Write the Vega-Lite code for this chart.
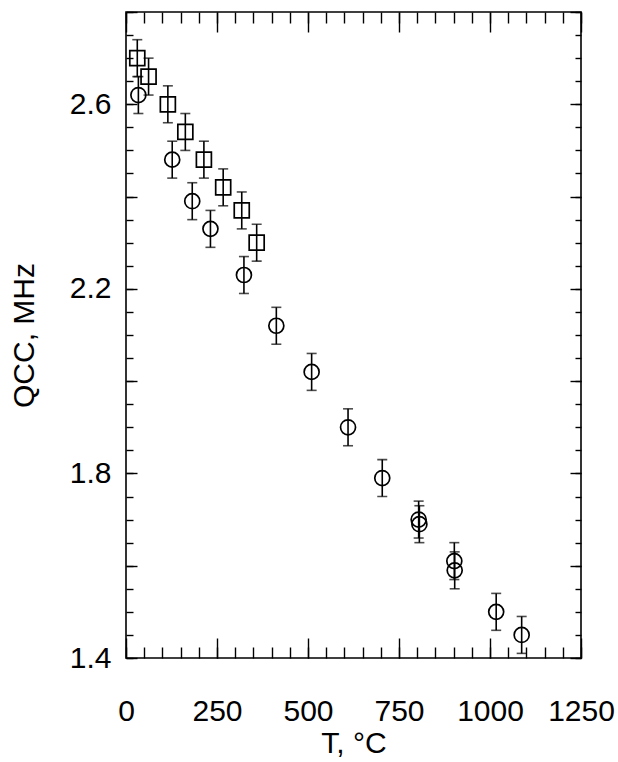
{
  "$schema": "https://vega.github.io/schema/vega-lite/v6.json",
  "width": 455,
  "height": 646,
  "autosize": "none",
  "padding": {"left": 126, "top": 12, "right": 37, "bottom": 104},
  "background": "white",
  "data": {
    "values": [
      {"series": "square", "T": 31, "Q": 2.70, "lo": 2.66, "hi": 2.74},
      {"series": "square", "T": 62, "Q": 2.66, "lo": 2.62, "hi": 2.70},
      {"series": "square", "T": 115, "Q": 2.60, "lo": 2.56, "hi": 2.64},
      {"series": "square", "T": 163, "Q": 2.54, "lo": 2.50, "hi": 2.58},
      {"series": "square", "T": 214, "Q": 2.48, "lo": 2.44, "hi": 2.52},
      {"series": "square", "T": 267, "Q": 2.42, "lo": 2.38, "hi": 2.46},
      {"series": "square", "T": 318, "Q": 2.37, "lo": 2.33, "hi": 2.41},
      {"series": "square", "T": 359, "Q": 2.30, "lo": 2.26, "hi": 2.34},
      {"series": "circle", "T": 34, "Q": 2.62, "lo": 2.58, "hi": 2.66},
      {"series": "circle", "T": 127, "Q": 2.48, "lo": 2.44, "hi": 2.52},
      {"series": "circle", "T": 182, "Q": 2.39, "lo": 2.35, "hi": 2.43},
      {"series": "circle", "T": 232, "Q": 2.33, "lo": 2.29, "hi": 2.37},
      {"series": "circle", "T": 324, "Q": 2.23, "lo": 2.19, "hi": 2.27},
      {"series": "circle", "T": 413, "Q": 2.12, "lo": 2.08, "hi": 2.16},
      {"series": "circle", "T": 510, "Q": 2.02, "lo": 1.98, "hi": 2.06},
      {"series": "circle", "T": 610, "Q": 1.90, "lo": 1.86, "hi": 1.94},
      {"series": "circle", "T": 704, "Q": 1.79, "lo": 1.75, "hi": 1.83},
      {"series": "circle", "T": 804, "Q": 1.70, "lo": 1.66, "hi": 1.74},
      {"series": "circle", "T": 806, "Q": 1.69, "lo": 1.65, "hi": 1.73},
      {"series": "circle", "T": 902, "Q": 1.61, "lo": 1.57, "hi": 1.65},
      {"series": "circle", "T": 903, "Q": 1.59, "lo": 1.55, "hi": 1.63},
      {"series": "circle", "T": 1017, "Q": 1.50, "lo": 1.46, "hi": 1.54},
      {"series": "circle", "T": 1087, "Q": 1.45, "lo": 1.41, "hi": 1.49}
    ]
  },
  "layer": [
    {
      "mark": {"type": "rule", "color": "black", "strokeWidth": 1.6},
      "encoding": {
        "x": {"field": "T", "type": "quantitative",
              "scale": {"domain": [0, 1250], "nice": false, "zero": false},
              "axis": {"orient": "bottom", "values": [0, 250, 500, 750, 1000, 1250],
                       "tickSize": -20, "labelPadding": 58, "format": "d",
                       "labelOverlap": false, "labelFlush": false, "labelBound": false,
                       "title": "T, °C", "titlePadding": 2}},
        "y": {"field": "lo", "type": "quantitative",
              "scale": {"domain": [1.4, 2.8], "nice": false, "zero": false},
              "axis": {"orient": "left", "values": [1.4, 1.6, 1.8, 2.0, 2.2, 2.4, 2.6, 2.8],
                       "tickSize": -11, "labelPadding": 26, "format": ".1f",
                       "labelOverlap": false, "labelFlush": false, "labelBound": false,
                       "labelExpr": "indexof(['1.4','1.8','2.2','2.6'], datum.label) >= 0 ? datum.label : ''",
                       "title": "QCC, MHz", "titlePadding": 30}},
        "y2": {"field": "hi"}
      }
    },
    {
      "mark": {"type": "tick", "orient": "horizontal", "color": "black", "size": 10, "thickness": 1.6},
      "encoding": {
        "x": {"field": "T", "type": "quantitative",
              "axis": {"orient": "bottom", "values": [0, 50, 100, 150, 200, 250, 300, 350, 400, 450, 500, 550, 600, 650, 700, 750, 800, 850, 900, 950, 1000, 1050, 1100, 1150, 1200, 1250],
                       "tickSize": -11, "labels": false, "title": null}},
        "y": {"field": "lo", "type": "quantitative",
              "axis": {"orient": "left", "values": [1.4, 1.45, 1.5, 1.55, 1.6, 1.65, 1.7, 1.75, 1.8, 1.85, 1.9, 1.95, 2.0, 2.05, 2.1, 2.15, 2.2, 2.25, 2.3, 2.35, 2.4, 2.45, 2.5, 2.55, 2.6, 2.65, 2.7, 2.75, 2.8],
                       "tickSize": -7, "labels": false, "title": null}}
      }
    },
    {
      "mark": {"type": "tick", "orient": "horizontal", "color": "black", "size": 10, "thickness": 1.6},
      "encoding": {
        "x": {"field": "T", "type": "quantitative",
              "axis": {"orient": "top", "values": [0, 250, 500, 750, 1000, 1250],
                       "tickSize": -20, "labels": false, "title": null}},
        "y": {"field": "hi", "type": "quantitative",
              "axis": {"orient": "right", "values": [1.4, 1.6, 1.8, 2.0, 2.2, 2.4, 2.6, 2.8],
                       "tickSize": -11, "labels": false, "title": null}}
      }
    },
    {
      "mark": {"type": "point", "filled": false, "color": "black", "strokeWidth": 1.7, "size": 225, "opacity": 1},
      "encoding": {
        "x": {"field": "T", "type": "quantitative",
              "axis": {"orient": "top", "values": [0, 50, 100, 150, 200, 250, 300, 350, 400, 450, 500, 550, 600, 650, 700, 750, 800, 850, 900, 950, 1000, 1050, 1100, 1150, 1200, 1250],
                       "tickSize": -11, "labels": false, "title": null}},
        "y": {"field": "Q", "type": "quantitative",
              "axis": {"orient": "right", "values": [1.4, 1.45, 1.5, 1.55, 1.6, 1.65, 1.7, 1.75, 1.8, 1.85, 1.9, 1.95, 2.0, 2.05, 2.1, 2.15, 2.2, 2.25, 2.3, 2.35, 2.4, 2.45, 2.5, 2.55, 2.6, 2.65, 2.7, 2.75, 2.8],
                       "tickSize": -6, "labels": false, "title": null}},
        "shape": {"field": "series", "type": "nominal",
                  "scale": {"domain": ["circle", "square"], "range": ["circle", "square"]},
                  "legend": null}
      }
    }
  ],
  "resolve": {"axis": {"x": "independent", "y": "independent"}},
  "config": {
    "view": {"stroke": "black", "strokeWidth": 1.6},
    "axis": {
      "domain": false,
      "grid": false,
      "tickColor": "black",
      "tickWidth": 1.4,
      "labelFont": "Liberation Sans",
      "labelFontSize": 30,
      "labelColor": "black",
      "titleFont": "Liberation Sans",
      "titleFontSize": 30,
      "titleFontWeight": "normal",
      "titleColor": "black"
    }
  }
}
